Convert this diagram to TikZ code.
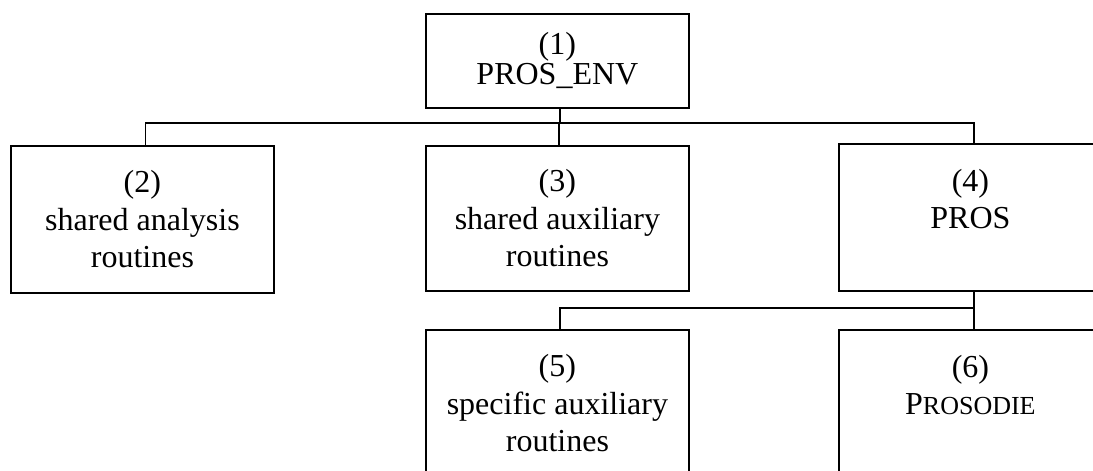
\documentclass[tikz,border=0pt]{standalone}
\usepackage{fontspec}
\setmainfont{Liberation Serif}
\begin{document}
\begin{tikzpicture}[x=1pt,y=1pt,
  box/.style={draw, line width=1.8pt, minimum width=263pt, anchor=north west,
    align=center, inner sep=0pt, font=\fontsize{32pt}{37.5pt}\selectfont},
  conn/.style={line width=1.7pt}]
\useasboundingbox (0,0) rectangle (1093,-471);
\clip (0,0) rectangle (1093,-471);
\fill[white] (0,0) rectangle (1093,-471);
% boxes
\node[box, minimum height=94pt, font=\fontsize{32pt}{30pt}\selectfont] (b1) at (425,-13) {(1)\\PROS\_ENV};
\node[box, minimum height=147pt] (b2) at (10,-145) {(2)\\shared analysis\\routines};
\node[box, minimum height=145pt] (b3) at (425,-145) {(3)\\shared auxiliary\\routines};
\node[box, minimum height=147pt] (b4) at (838,-143) {(4)\\PROS\\\mbox{}};
\node[box, minimum height=147pt] (b5) at (425,-329) {(5)\\specific auxiliary\\routines};
\node[box, minimum height=147pt] (b6) at (838,-329) {(6)\\P{\fontsize{26pt}{30pt}\selectfont ROSODIE}\\\mbox{}};
% bus coordinates
\coordinate (bus1) at (0,-123);
\coordinate (bus2) at (0,-308);
% first level connectors
\draw[conn] ([xshift=2.5pt]b1.south) -- ([xshift=2.5pt]b1.south |- bus1);
\draw[conn] ([xshift=3pt]b2.north) -- ([xshift=3pt]b2.north |- bus1) -- ([xshift=3.5pt]b4.north |- bus1) -- ([xshift=3.5pt]b4.north);
\draw[conn] ([xshift=1.5pt]b3.north) -- ([xshift=1.5pt]b3.north |- bus1);
% second level connectors
\draw[conn] ([xshift=3.5pt]b4.south) -- ([xshift=3.5pt]b6.north);
\draw[conn] ([xshift=2.5pt]b5.north) -- ([xshift=2.5pt]b5.north |- bus2) -- ([xshift=3.5pt]b6.north |- bus2);
\end{tikzpicture}
\end{document}
